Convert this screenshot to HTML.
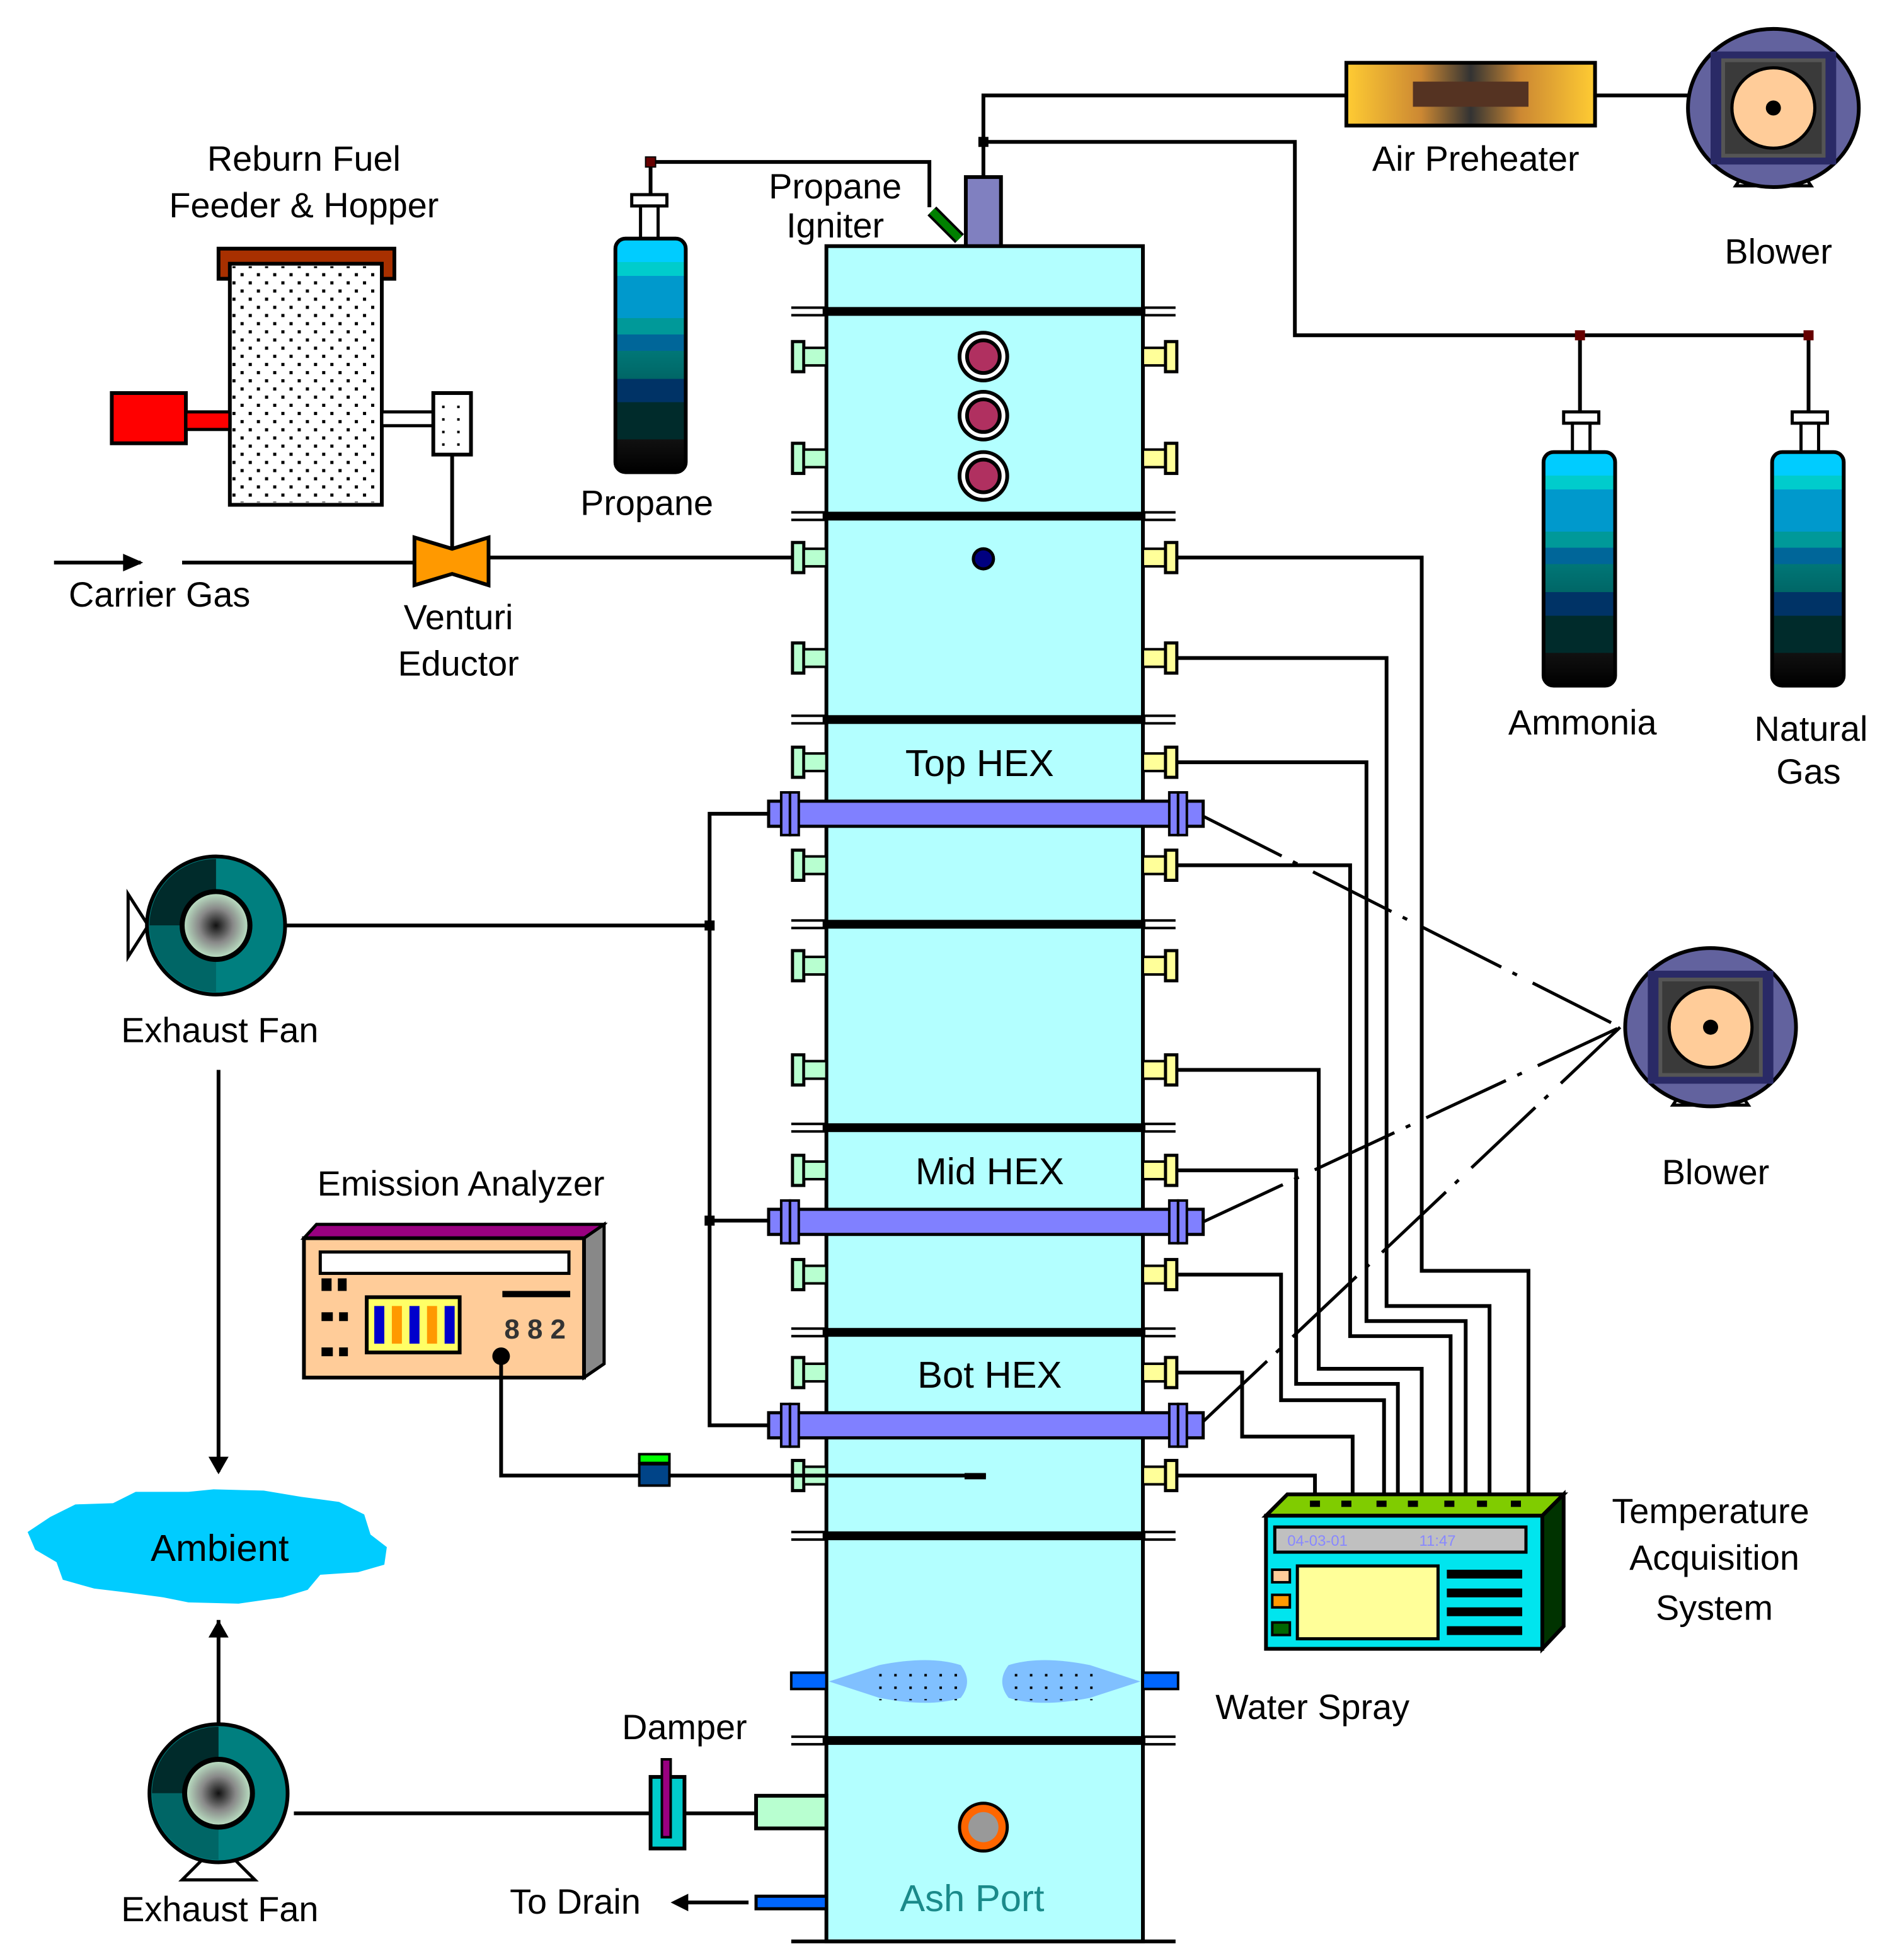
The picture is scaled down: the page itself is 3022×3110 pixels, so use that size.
<!DOCTYPE html>
<html><head><meta charset="utf-8"><style>
html,body{margin:0;padding:0;background:#fff}
svg{display:block}
text{font-family:"Liberation Sans",sans-serif;fill:#000}
</style></head><body>
<svg width="3022" height="3110" viewBox="0 0 1516 1560" preserveAspectRatio="none" xmlns="http://www.w3.org/2000/svg">
<defs>
<linearGradient id="cyl" x1="0" y1="0" x2="0" y2="1">
<stop offset="0" stop-color="#00ccff"/><stop offset="0.1" stop-color="#00ccff"/>
<stop offset="0.1" stop-color="#00cccc"/><stop offset="0.16" stop-color="#00cccc"/>
<stop offset="0.16" stop-color="#0099cc"/><stop offset="0.34" stop-color="#0099cc"/>
<stop offset="0.34" stop-color="#009999"/><stop offset="0.41" stop-color="#009999"/>
<stop offset="0.41" stop-color="#006699"/><stop offset="0.48" stop-color="#006699"/>
<stop offset="0.48" stop-color="#007777"/><stop offset="0.6" stop-color="#006666"/>
<stop offset="0.6" stop-color="#003366"/><stop offset="0.7" stop-color="#003366"/>
<stop offset="0.7" stop-color="#002b2b"/><stop offset="0.86" stop-color="#002b2b"/>
<stop offset="0.86" stop-color="#111"/><stop offset="1" stop-color="#000"/>
</linearGradient>
<radialGradient id="fanc"><stop offset="0" stop-color="#111"/><stop offset="0.5" stop-color="#888"/><stop offset="1" stop-color="#bfe8c8"/></radialGradient>
<linearGradient id="heat" x1="0" y1="0" x2="1" y2="0">
<stop offset="0" stop-color="#ffcc33"/><stop offset="0.3" stop-color="#cc8833"/><stop offset="0.5" stop-color="#333"/><stop offset="0.7" stop-color="#cc8833"/><stop offset="1" stop-color="#ffcc33"/></linearGradient>
<pattern id="dots" width="13" height="13" patternUnits="userSpaceOnUse"><rect x="3" y="3" width="2.5" height="2.5" fill="#000"/><rect x="9.5" y="9.5" width="2.5" height="2.5" fill="#000"/></pattern>
<pattern id="sdots" width="12" height="10" patternUnits="userSpaceOnUse"><rect x="4" y="3" width="2" height="2" fill="#000"/></pattern>
<g id="lp"><rect x="631" y="-12" width="9" height="24" fill="#b8ffd0" stroke="#000" stroke-width="2.5"/><rect x="640" y="-7" width="18" height="14" fill="#b8ffd0" stroke="#000" stroke-width="2"/></g>
<g id="rp"><rect x="910" y="-7" width="18" height="14" fill="#ffff99" stroke="#000" stroke-width="2"/><rect x="928" y="-12" width="9" height="24" fill="#ffff99" stroke="#000" stroke-width="2.5"/></g>
<g id="fl"><rect x="655" y="-3.5" width="257" height="7" fill="#000"/><rect x="630" y="-4" width="28" height="2" fill="#000"/><rect x="630" y="2" width="28" height="2" fill="#000"/><rect x="910" y="-4" width="26" height="2" fill="#000"/><rect x="910" y="2" width="26" height="2" fill="#000"/></g>
<g id="hex"><rect x="612" y="-10" width="346" height="20" fill="#8080ff" stroke="#000" stroke-width="2.5"/>
<rect x="622" y="-17" width="7" height="34" fill="#8080ff" stroke="#000" stroke-width="2"/><rect x="629" y="-17" width="7" height="34" fill="#8080ff" stroke="#000" stroke-width="2"/>
<rect x="931" y="-17" width="7" height="34" fill="#8080ff" stroke="#000" stroke-width="2"/><rect x="938" y="-17" width="7" height="34" fill="#8080ff" stroke="#000" stroke-width="2"/></g>
<g id="blower"><path d="M-30 62 L-22 50 L22 50 L30 62 Z" fill="#fff" stroke="#000" stroke-width="2.5"/>
<ellipse cx="0" cy="0" rx="68" ry="63" fill="#62629e" stroke="#000" stroke-width="3"/>
<rect x="-50" y="-45" width="100" height="90" fill="#2a2a66"/><rect x="-40" y="-38" width="80" height="76" fill="#3a3a3a" stroke="#555" stroke-width="3"/>
<ellipse cx="0" cy="0" rx="33" ry="32" fill="#ffcc99" stroke="#000" stroke-width="2.5"/><circle cx="0" cy="0" r="6" fill="#000"/></g>
<g id="fan"><circle cx="0" cy="0" r="55" fill="#007f7f" stroke="#000" stroke-width="3"/>
<path d="M0 -53 A53 53 0 0 0 -53 0 L0 0 Z" fill="#002b2b"/><path d="M-53 0 A53 53 0 0 0 0 53 L0 0Z" fill="#006666"/>
<circle cx="0" cy="0" r="27" fill="url(#fanc)" stroke="#000" stroke-width="4"/></g>
</defs>

<!-- top piping -->
<polyline points="783,141 783,76 1072,76" fill="none" stroke="#000" stroke-width="3"/>
<line x1="1270" y1="76" x2="1345" y2="76" stroke="#000" stroke-width="3"/>
<polyline points="783,113 1031,113 1031,267 1440,267" fill="none" stroke="#000" stroke-width="3"/>
<line x1="1258" y1="267" x2="1258" y2="330" stroke="#000" stroke-width="3"/>
<line x1="1440" y1="267" x2="1440" y2="330" stroke="#000" stroke-width="3"/>
<rect x="779" y="109" width="8" height="8" fill="#000"/><rect x="1254" y="263" width="8" height="8" fill="#600"/><rect x="1436" y="263" width="8" height="8" fill="#600"/>
<rect x="1072" y="50" width="198" height="50" fill="url(#heat)" stroke="#000" stroke-width="3"/>
<rect x="1125" y="65" width="92" height="20" fill="#553322"/>
<text x="1175" y="136" font-size="28" text-anchor="middle">Air Preheater</text>
<use href="#blower" x="1412" y="86"/>
<text x="1416" y="210" font-size="28" text-anchor="middle">Blower</text>

<!-- propane -->
<polyline points="518,190 518,129 740,129 740,165" fill="none" stroke="#000" stroke-width="3"/>
<rect x="514" y="125" width="8" height="8" fill="#600" stroke="#000" stroke-width="1"/>
<rect x="503" y="155" width="28" height="9" fill="#fff" stroke="#000" stroke-width="2.5"/>
<rect x="510" y="164" width="14" height="27" fill="#fff" stroke="#000" stroke-width="2.5"/>
<rect x="490" y="190" width="56" height="186" rx="8" fill="url(#cyl)" stroke="#000" stroke-width="3"/>
<text x="515" y="410" font-size="28" text-anchor="middle">Propane</text>
<text x="665" y="158" font-size="28" text-anchor="middle">Propane</text>
<text x="665" y="189" font-size="28" text-anchor="middle">Igniter</text>
<line x1="742" y1="168" x2="764" y2="190" stroke="#000" stroke-width="10"/><line x1="742" y1="168" x2="764" y2="190" stroke="#008000" stroke-width="6"/>
<rect x="769" y="141" width="28" height="56" fill="#8080c0" stroke="#000" stroke-width="3"/>

<!-- ammonia / natural gas -->
<rect x="1245" y="328" width="28" height="9" fill="#fff" stroke="#000" stroke-width="2.5"/><rect x="1252" y="337" width="14" height="25" fill="#fff" stroke="#000" stroke-width="2.5"/>
<rect x="1229" y="360" width="57" height="186" rx="8" fill="url(#cyl)" stroke="#000" stroke-width="3"/>
<rect x="1427" y="328" width="28" height="9" fill="#fff" stroke="#000" stroke-width="2.5"/><rect x="1434" y="337" width="14" height="25" fill="#fff" stroke="#000" stroke-width="2.5"/>
<rect x="1411" y="360" width="57" height="186" rx="8" fill="url(#cyl)" stroke="#000" stroke-width="3"/>
<text x="1260" y="585" font-size="28" text-anchor="middle">Ammonia</text>
<text x="1442" y="590" font-size="28" text-anchor="middle">Natural</text>
<text x="1440" y="624" font-size="28" text-anchor="middle">Gas</text>

<!-- hopper -->
<text x="242" y="136" font-size="28" text-anchor="middle">Reburn Fuel</text>
<text x="242" y="173" font-size="28" text-anchor="middle">Feeder &amp; Hopper</text>
<rect x="174" y="198" width="140" height="24" fill="#a83000" stroke="#000" stroke-width="3"/>
<rect x="183" y="206" width="121" height="12" fill="#a83000"/>
<rect x="183" y="210" width="121" height="192" fill="#fff" stroke="#000" stroke-width="3"/>
<rect x="185" y="212" width="117" height="188" fill="url(#dots)"/>
<rect x="89" y="313" width="59" height="40" fill="#ff0000" stroke="#000" stroke-width="3"/>
<rect x="148" y="328" width="35" height="14" fill="#ff0000" stroke="#000" stroke-width="2.5"/>
<rect x="304" y="328" width="41" height="11" fill="#fff" stroke="#000" stroke-width="2.5"/>
<rect x="345" y="313" width="30" height="49" fill="#fff" stroke="#000" stroke-width="3"/>
<rect x="347" y="315" width="26" height="45" fill="url(#sdots)"/>
<line x1="360" y1="362" x2="360" y2="437" stroke="#000" stroke-width="3"/>
<path d="M330 428 L360 437 L389 428 L389 466 L360 457 L330 466 Z" fill="#ff9900" stroke="#000" stroke-width="3"/>
<line x1="43" y1="448" x2="112" y2="448" stroke="#000" stroke-width="3"/>
<path d="M98 441 L114 448 L98 455 Z" fill="#000"/>
<line x1="145" y1="448" x2="330" y2="448" stroke="#000" stroke-width="3"/>
<line x1="389" y1="444" x2="783" y2="444" stroke="#000" stroke-width="3"/>
<text x="127" y="483" font-size="28" text-anchor="middle">Carrier  Gas</text>
<text x="365" y="501" font-size="28" text-anchor="middle">Venturi</text>
<text x="365" y="538" font-size="28" text-anchor="middle">Eductor</text>

<!-- column -->
<rect x="658" y="196" width="252" height="1350" fill="#b3ffff" stroke="#000" stroke-width="3"/>
<line x1="630" y1="1546" x2="936" y2="1546" stroke="#000" stroke-width="3"/>
<use href="#fl" y="248"/><use href="#fl" y="411"/><use href="#fl" y="573"/><use href="#fl" y="736"/>
<use href="#fl" y="898"/><use href="#fl" y="1061"/><use href="#fl" y="1223"/><use href="#fl" y="1386"/>
<g>
<use href="#lp" y="284"/><use href="#lp" y="365"/><use href="#lp" y="444"/><use href="#lp" y="524"/><use href="#lp" y="607"/><use href="#lp" y="689"/><use href="#lp" y="769"/><use href="#lp" y="852"/><use href="#lp" y="932"/><use href="#lp" y="1015"/><use href="#lp" y="1093"/><use href="#lp" y="1175"/>
<use href="#rp" y="284"/><use href="#rp" y="365"/><use href="#rp" y="444"/><use href="#rp" y="524"/><use href="#rp" y="607"/><use href="#rp" y="689"/><use href="#rp" y="769"/><use href="#rp" y="852"/><use href="#rp" y="932"/><use href="#rp" y="1015"/><use href="#rp" y="1093"/><use href="#rp" y="1175"/>
</g>
<g fill="#b03060" stroke="#000" stroke-width="3">
<circle cx="783" cy="284" r="19" fill="#fff"/><circle cx="783" cy="284" r="13"/>
<circle cx="783" cy="331" r="19" fill="#fff"/><circle cx="783" cy="331" r="13"/>
<circle cx="783" cy="379" r="19" fill="#fff"/><circle cx="783" cy="379" r="13"/>
</g>
<circle cx="783" cy="445" r="8" fill="#000080" stroke="#000" stroke-width="2.5"/>
<use href="#hex" y="648"/><use href="#hex" y="973"/><use href="#hex" y="1135"/>
<text x="780" y="618" font-size="30" text-anchor="middle">Top HEX</text>
<text x="788" y="943" font-size="30" text-anchor="middle">Mid HEX</text>
<text x="788" y="1105" font-size="30" text-anchor="middle">Bot HEX</text>

<!-- water spray -->
<rect x="630" y="1332" width="28" height="13" fill="#0066ff" stroke="#000" stroke-width="2"/>
<rect x="910" y="1332" width="28" height="13" fill="#0066ff" stroke="#000" stroke-width="2"/>
<path d="M660 1339 L700 1326 Q740 1318 765 1326 Q775 1339 765 1352 Q740 1360 700 1352 Z" fill="#80c0ff"/>
<path d="M908 1339 L868 1326 Q828 1318 803 1326 Q793 1339 803 1352 Q828 1360 868 1352 Z" fill="#80c0ff"/>
<rect x="700" y="1326" width="70" height="28" fill="url(#sdots)"/><rect x="800" y="1326" width="70" height="28" fill="url(#sdots)"/>
<text x="1045" y="1369" font-size="28" text-anchor="middle">Water Spray</text>
<circle cx="783" cy="1455" r="19" fill="#ff6600" stroke="#000" stroke-width="2.5"/><circle cx="783" cy="1455" r="12" fill="#999"/>
<text x="774" y="1522" font-size="30" text-anchor="middle" style="fill:#1a8a8a">Ash Port</text>

<!-- right wiring -->
<g fill="none" stroke="#000" stroke-width="3">
<polyline points="938,444 1132,444 1132,1012 1217,1012 1217,1190"/>
<polyline points="938,524 1104,524 1104,1040 1186,1040 1186,1190"/>
<polyline points="938,607 1088,607 1088,1052 1167,1052 1167,1190"/>
<polyline points="938,689 1075,689 1075,1064 1155,1064 1155,1190"/>
<polyline points="938,852 1050,852 1050,1090 1132,1090 1132,1190"/>
<polyline points="938,932 1032,932 1032,1102 1113,1102 1113,1190"/>
<polyline points="938,1015 1020,1015 1020,1115 1102,1115 1102,1190"/>
<polyline points="938,1093 989,1093 989,1144 1077,1144 1077,1190"/>
<polyline points="938,1175 1047,1175 1047,1190"/>
</g>
<g stroke="#000" stroke-width="2.5" stroke-dasharray="70 10 4 14">
<line x1="958" y1="650" x2="1290" y2="818"/>
<line x1="958" y1="973" x2="1290" y2="818"/>
<line x1="958" y1="1132" x2="1290" y2="818"/>
</g>
<use href="#blower" x="1362" y="818"/>
<text x="1366" y="943" font-size="28" text-anchor="middle">Blower</text>

<!-- temperature acquisition -->
<path d="M1008 1207 L1025 1190 L1245 1190 L1228 1207 Z" fill="#80cc00" stroke="#000" stroke-width="3"/>
<path d="M1228 1207 L1245 1190 L1245 1295 L1228 1313 Z" fill="#003300" stroke="#000" stroke-width="3"/>
<rect x="1008" y="1207" width="220" height="106" fill="#00e5ee" stroke="#000" stroke-width="3"/>
<rect x="1015" y="1216" width="200" height="20" fill="#c0c0c0" stroke="#000" stroke-width="2.5"/>
<text x="1025" y="1231" font-size="12" style="fill:#8888ff">04-03-01</text><text x="1130" y="1231" font-size="12" style="fill:#8888ff">11:47</text>
<rect x="1033" y="1247" width="112" height="58" fill="#ffff99" stroke="#000" stroke-width="2.5"/>
<rect x="1013" y="1250" width="14" height="10" fill="#ffcc99" stroke="#000" stroke-width="2"/>
<rect x="1013" y="1270" width="14" height="10" fill="#ff9900" stroke="#000" stroke-width="2"/>
<rect x="1013" y="1292" width="14" height="10" fill="#006600" stroke="#000" stroke-width="2"/>
<g fill="#000"><rect x="1152" y="1250" width="60" height="7"/><rect x="1152" y="1265" width="60" height="7"/><rect x="1152" y="1280" width="60" height="7"/><rect x="1152" y="1295" width="60" height="7"/></g>
<g fill="#000"><rect x="1043" y="1195" width="8" height="5"/><rect x="1068" y="1195" width="8" height="5"/><rect x="1096" y="1195" width="8" height="5"/><rect x="1121" y="1195" width="8" height="5"/><rect x="1150" y="1195" width="8" height="5"/><rect x="1176" y="1195" width="8" height="5"/><rect x="1203" y="1195" width="8" height="5"/></g>
<text x="1362" y="1213" font-size="28" text-anchor="middle">Temperature</text>
<text x="1365" y="1250" font-size="28" text-anchor="middle">Acquisition</text>
<text x="1365" y="1290" font-size="28" text-anchor="middle">System</text>

<!-- left: exhaust fan & HEX loop -->
<polyline points="612,648 565,648 565,1135 612,1135" fill="none" stroke="#000" stroke-width="3"/>
<line x1="565" y1="972" x2="612" y2="972" stroke="#000" stroke-width="3"/>
<line x1="228" y1="737" x2="565" y2="737" stroke="#000" stroke-width="3"/>
<rect x="561" y="733" width="8" height="8" fill="#000"/><rect x="561" y="968" width="8" height="8" fill="#000"/>
<path d="M118 737 L102 712 L102 762 Z" fill="#fff" stroke="#000" stroke-width="2.5"/>
<use href="#fan" x="172" y="737"/>
<text x="175" y="830" font-size="28" text-anchor="middle">Exhaust Fan</text>
<line x1="174" y1="852" x2="174" y2="1172" stroke="#000" stroke-width="3"/>
<path d="M166 1160 L174 1174 L182 1160 Z" fill="#000"/>

<!-- emission analyzer -->
<text x="367" y="952" font-size="28" text-anchor="middle">Emission Analyzer</text>
<path d="M242 986 L252 975 L481 975 L471 986 Z" fill="#990080" stroke="#000" stroke-width="2.5"/>
<path d="M465 986 L481 975 L481 1086 L465 1097 Z" fill="#888" stroke="#000" stroke-width="2.5"/>
<rect x="242" y="986" width="223" height="111" fill="#ffcc99" stroke="#000" stroke-width="3"/>
<rect x="255" y="997" width="198" height="17" fill="#fff" stroke="#000" stroke-width="2.5"/>
<rect x="292" y="1033" width="74" height="44" fill="#ffff66" stroke="#000" stroke-width="3"/>
<g fill="#0000cc"><rect x="298" y="1040" width="8" height="30"/><rect x="312" y="1040" width="8" height="30" fill="#ff9900"/><rect x="326" y="1040" width="8" height="30"/><rect x="340" y="1040" width="8" height="30" fill="#ff9900"/><rect x="354" y="1040" width="8" height="30"/></g>
<rect x="400" y="1028" width="54" height="5" fill="#000"/>
<g fill="#000"><rect x="256" y="1018" width="8" height="10"/><rect x="269" y="1018" width="7" height="10"/><rect x="256" y="1045" width="9" height="7"/><rect x="270" y="1045" width="7" height="7"/><rect x="256" y="1073" width="9" height="7"/><rect x="270" y="1073" width="7" height="7"/></g>
<text x="426" y="1066" font-size="22" text-anchor="middle" font-weight="bold" style="fill:#333">8 8 2</text>
<circle cx="399" cy="1080" r="7" fill="#000"/>
<polyline points="399,1080 399,1175 785,1175" fill="none" stroke="#000" stroke-width="3"/>
<rect x="768" y="1173" width="17" height="5" fill="#000"/>
<rect x="509" y="1158" width="24" height="7" fill="#00ff00" stroke="#000" stroke-width="2"/>
<rect x="509" y="1166" width="24" height="17" fill="#004488" stroke="#000" stroke-width="2"/>

<!-- ambient -->
<path d="M40 1208 L60 1198 L90 1197 L108 1188 L150 1188 L170 1186 L210 1187 L240 1192 L270 1196 L290 1206 L295 1222 L308 1232 L306 1246 L285 1252 L255 1254 L245 1266 L225 1272 L190 1277 L150 1276 L130 1272 L100 1268 L75 1265 L50 1258 L45 1244 L28 1234 L22 1220 Z" fill="#00ccff"/>
<text x="175" y="1243" font-size="30" text-anchor="middle">Ambient</text>
<line x1="174" y1="1290" x2="174" y2="1378" stroke="#000" stroke-width="3"/>
<path d="M166 1304 L174 1290 L182 1304 Z" fill="#000"/>

<!-- bottom fan / damper / drain -->
<path d="M145 1497 L162 1480 L186 1480 L203 1497 Z" fill="#fff" stroke="#000" stroke-width="2.5"/>
<use href="#fan" x="174" y="1428"/>
<text x="175" y="1530" font-size="28" text-anchor="middle">Exhaust Fan</text>
<line x1="234" y1="1444" x2="602" y2="1444" stroke="#000" stroke-width="3"/>
<rect x="518" y="1415" width="27" height="57" fill="#00cccc" stroke="#000" stroke-width="3"/>
<rect x="527" y="1401" width="7" height="62" fill="#990080" stroke="#000" stroke-width="2"/>
<text x="545" y="1385" font-size="28" text-anchor="middle">Damper</text>
<rect x="602" y="1430" width="56" height="26" fill="#b8ffd0" stroke="#000" stroke-width="3"/>
<rect x="602" y="1510" width="56" height="10" fill="#0066ff" stroke="#000" stroke-width="2.5"/>
<line x1="540" y1="1515" x2="596" y2="1515" stroke="#000" stroke-width="3"/>
<path d="M534 1515 L548 1508 L548 1522 Z" fill="#000"/>
<text x="458" y="1524" font-size="28" text-anchor="middle">To Drain</text>
</svg>
</body></html>
